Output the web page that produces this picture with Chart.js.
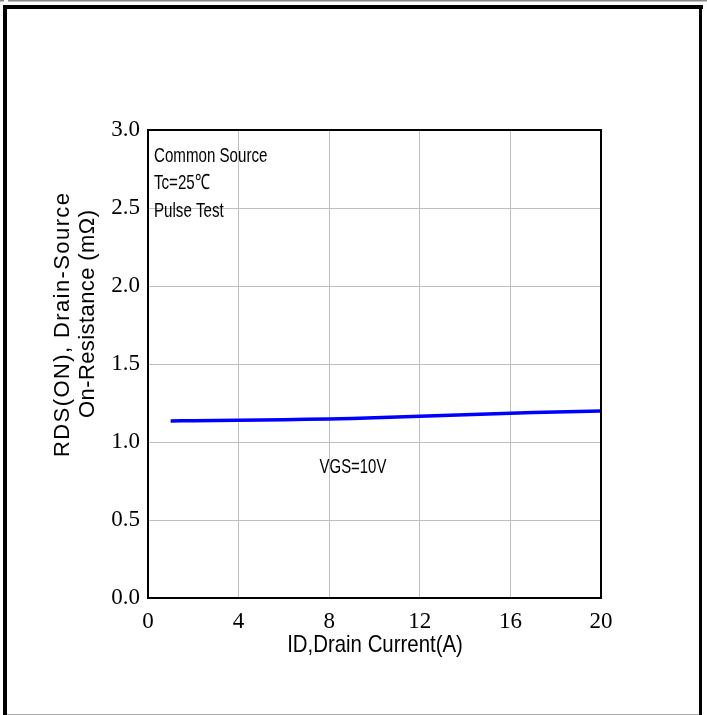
<!DOCTYPE html>
<html>
<head>
<meta charset="utf-8">
<script src="https://cdn.jsdelivr.net/npm/chart.js@4/dist/chart.umd.min.js"></script>
<style>
  html, body { margin: 0; padding: 0; background: #ffffff; }
  #wrap { width: 707px; height: 715px; position: relative; }
</style>
</head>
<body>
<div id="wrap"><canvas id="c" width="707" height="715"></canvas></div>
<script>
// ---- data ----
const drainCurrent = [1, 2, 4, 6, 8, 10, 12, 14, 16, 18, 20];
const rdsOn = [1.135, 1.137, 1.140, 1.143, 1.148, 1.155, 1.165, 1.175, 1.185, 1.192, 1.198];
const xTickValues = [0, 4, 8, 12, 16, 20];
const yTickValues = [0, 0.5, 1.0, 1.5, 2.0, 2.5, 3.0];
const conditionLines = ["Common Source", "Tc=25\u2103", "Pulse Test"];
const curveLabel = "VGS=10V";
const xTitle = "ID,Drain Current(A)";
const yTitleLines = ["RDS(ON), Drain-Source", "On-Resistance (m\u03A9)"];

function narrowText(ctx, text, x, y, sx, align) {
  ctx.save();
  ctx.translate(x, y);
  ctx.scale(sx, 1);
  ctx.textAlign = align;
  ctx.fillText(text, 0, 0);
  ctx.restore();
}

const decorPlugin = {
  id: 'decor',
  afterDraw(chart) {
    const ctx = chart.ctx;
    const a = chart.chartArea;
    const xs = chart.scales.x, ys = chart.scales.y;
    ctx.save();
    // plot border
    ctx.strokeStyle = '#000';
    ctx.lineWidth = 2;
    ctx.strokeRect(a.left, a.top, a.right - a.left, a.bottom - a.top);

    // condition text
    ctx.fillStyle = '#000';
    ctx.font = '21px "Liberation Sans", sans-serif';
    ctx.textBaseline = 'middle';
    conditionLines.forEach((t, i) => narrowText(ctx, t, a.left + 6, a.top + 26 + i * 27.5, 0.72, 'left'));

    // curve label
    narrowText(ctx, curveLabel, xs.getPixelForValue(9.05), ys.getPixelForValue(0.84), 0.71, 'center');

    // x title
    ctx.font = '24px "Liberation Sans", sans-serif';
    narrowText(ctx, xTitle, 375, 645, 0.85, 'center');

    // y title (two rotated lines, letter-spaced)
    ctx.font = '22px "Liberation Sans", sans-serif';
    const yPos = [[63, 325, 264], [88, 314, 208]];
    yTitleLines.forEach((t, i) => {
      const [cx, cy, target] = yPos[i];
      ctx.letterSpacing = '0px';
      const w = ctx.measureText(t).width;
      const sp = Math.max(0, (target - w) / (t.length - 1));
      ctx.letterSpacing = sp + 'px';
      ctx.save();
      ctx.translate(cx, cy);
      ctx.rotate(-Math.PI / 2);
      ctx.textAlign = 'center';
      ctx.fillText(t, sp / 2, 0);
      ctx.restore();
    });
    ctx.letterSpacing = '0px';

    // page frame
    ctx.fillStyle = '#888';
    ctx.fillRect(8, 0, 699, 1.5);
    ctx.fillRect(0, 0, 4, 1.5);
    ctx.fillStyle = '#000';
    ctx.fillRect(3, 5, 700, 4);
    ctx.fillRect(3, 5, 4, 710);
    ctx.fillRect(699, 5, 3, 710);
    ctx.fillStyle = '#aaa';
    ctx.fillRect(7, 714, 692, 1);
    ctx.restore();
  }
};

new Chart(document.getElementById('c'), {
  type: 'line',
  data: {
    datasets: [{
      data: drainCurrent.map((x, i) => ({ x: x, y: rdsOn[i] })),
      borderColor: '#0000ff',
      borderWidth: 3.5,
      pointRadius: 0,
      tension: 0.3,
      fill: false
    }]
  },
  options: {
    responsive: false,
    animation: false,
    devicePixelRatio: 1,
    layout: { padding: { top: 130, right: 106, left: 0, bottom: 0 } },
    plugins: { legend: { display: false }, tooltip: { enabled: false } },
    scales: {
      x: {
        type: 'linear', min: 0, max: 20,
        afterBuildTicks: s => { s.ticks = xTickValues.map(v => ({ value: v })); },
        afterFit: s => { s.height = 117; },
        grid: { color: '#bfbfbf', lineWidth: 1, drawTicks: false },
        border: { color: '#000', width: 2 },
        ticks: {
          padding: 10, color: '#000', maxRotation: 0,
          font: { family: '"Liberation Serif", serif', size: 23 },
          callback: v => String(v)
        }
      },
      y: {
        type: 'linear', min: 0, max: 3,
        afterBuildTicks: s => { s.ticks = yTickValues.map(v => ({ value: v })); },
        afterFit: s => { s.width = 148; },
        grid: { color: '#bfbfbf', lineWidth: 1, drawTicks: false },
        border: { color: '#000', width: 2 },
        ticks: {
          padding: 8, color: '#000',
          font: { family: '"Liberation Serif", serif', size: 23 },
          callback: v => Number(v).toFixed(1)
        }
      }
    }
  },
  plugins: [decorPlugin]
});
</script>
</body>
</html>
